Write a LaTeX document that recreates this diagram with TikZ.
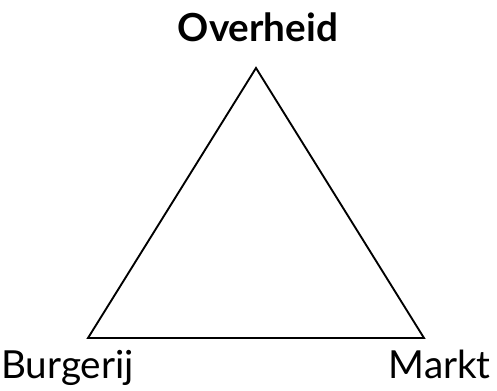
\documentclass[tikz,border=0pt]{standalone}
\usepackage{fontspec}
\setmainfont{Lato}
\usepackage{tikz}

\begin{document}
\begin{tikzpicture}[x=0.03cm, y=-0.03cm, every node/.style={inner sep=0pt, font=\fontsize{33}{38}\selectfont}]
\useasboundingbox (0, 0) rectangle (497, 391);
\coordinate (overheid) at (256, 68);
\coordinate (burgerij) at (88, 338);
\coordinate (markt) at (424, 338);
\draw[line width=1.6pt, line join=miter] (overheid) -- (burgerij) -- (markt) -- cycle;
\node[anchor=base] (overheidlabel) at (258, 42) {\bfseries Overheid};
\node[anchor=base west] (burgerijlabel) at (1, 378) {Burgerij};
\node[anchor=base east] (marktlabel) at (491, 378) {Markt};
\end{tikzpicture}
\end{document}
